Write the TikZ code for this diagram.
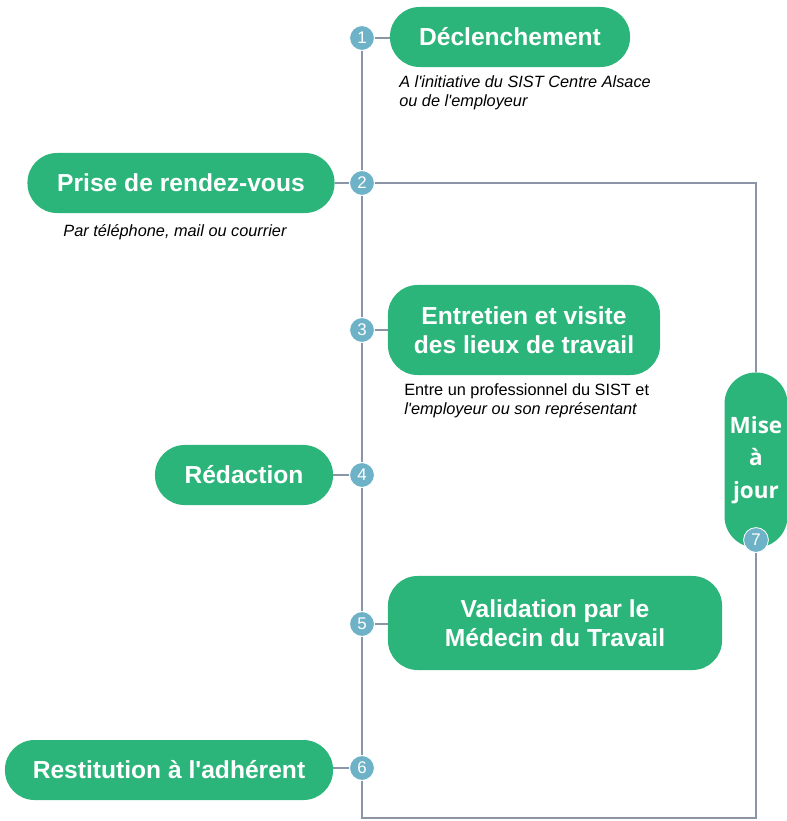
\documentclass[tikz,border=0pt]{standalone}
\usepackage{fontspec}
\setmainfont{Liberation Sans}
\newfontfamily\opensans{Open Sans}
\usetikzlibrary{positioning,backgrounds}
\definecolor{pillgreen}{RGB}{44,181,122}
\definecolor{numblue}{RGB}{110,178,200}
\definecolor{linegray}{RGB}{140,148,168}
\newcommand{\apos}{\textquotesingle}

\begin{document}
\begin{tikzpicture}[
    x=0.025cm, y=-0.025cm,
    pill/.style={fill=pillgreen, text=white, rounded corners=0.74cm, align=center, inner sep=0pt,
        font=\fontsize{17.5}{21}\selectfont\bfseries},
    num/.style={circle, fill=numblue, draw=white, line width=0.6pt, text=white, minimum size=0.62cm,
        inner sep=0pt, font=\fontsize{12}{12}\selectfont},
    sub/.style={font=\fontsize{11.6}{14}\selectfont, align=left, inner sep=0pt},
    link/.style={draw=linegray, line width=1.4pt},
]
\useasboundingbox (0,0) rectangle (787,821);

% Steps
\node[pill, minimum width=6cm, minimum height=1.5cm] (decl) at (510,37) {D\'eclenchement};
\node[pill, minimum width=7.675cm, minimum height=1.5cm] (prise) at (181,183) {Prise de rendez-vous};
\node[pill, minimum width=6.8cm, minimum height=2.25cm] (entre) at (524,330) {Entretien et visite\\des lieux de travail};
\node[pill, minimum width=4.45cm, minimum height=1.5cm] (redac) at (244,475) {R\'edaction};
\node[pill, minimum width=8.35cm, minimum height=2.35cm] (valid) at (555,623) {Validation par le\\M\'edecin du Travail};
\node[pill, minimum width=8.2cm, minimum height=1.5cm] (resti) at (169,770) {Restitution \`a l\apos adh\'erent};
\node[pill, minimum width=1.575cm, minimum height=4.375cm, rounded corners=0.78cm,
      font=\fontsize{16}{23}\opensans\bfseries] (mise) at (756,460) {Mise\\\`a\\jour};

% Notes
\node[sub, anchor=north west] (sub1) at (399,75) {\itshape A l\apos initiative du SIST Centre Alsace\\\itshape ou de l\apos employeur};
\node[sub] (sub2) at (175,232) {\itshape Par t\'el\'ephone, mail ou courrier};
\node[sub, anchor=north west] (sub3) at (404,383) {Entre un professionnel du SIST et\\\itshape l\apos employeur ou son repr\'esentant};

% Numbers
\node[num] (n1) at (362,38) {1};
\node[num] (n2) at (362,183) {2};
\node[num] (n3) at (362,330) {3};
\node[num] (n4) at (362,475) {4};
\node[num] (n5) at (362,624) {5};
\node[num] (n6) at (362,768) {6};
\node[num] (n7) at (756,540) {7};

% Corners of the loop
\coordinate (tr) at (756,183);
\coordinate (bl) at (362,818);
\coordinate (br) at (756,818);

\begin{scope}[on background layer]
\draw[link] (n1) -- (n2) -- (n3) -- (n4) -- (n5) -- (n6) -- (bl) -- (br) -- (n7);
\draw[link] (n2) -- (tr) -- (mise.north);
\draw[link] (n1) -- (n1 -| decl.west);
\draw[link] (n2) -- (n2 -| prise.east);
\draw[link] (n3) -- (n3 -| entre.west);
\draw[link] (n4) -- (n4 -| redac.east);
\draw[link] (n5) -- (n5 -| valid.west);
\draw[link] (n6) -- (n6 -| resti.east);
\end{scope}

\end{tikzpicture}
\end{document}
